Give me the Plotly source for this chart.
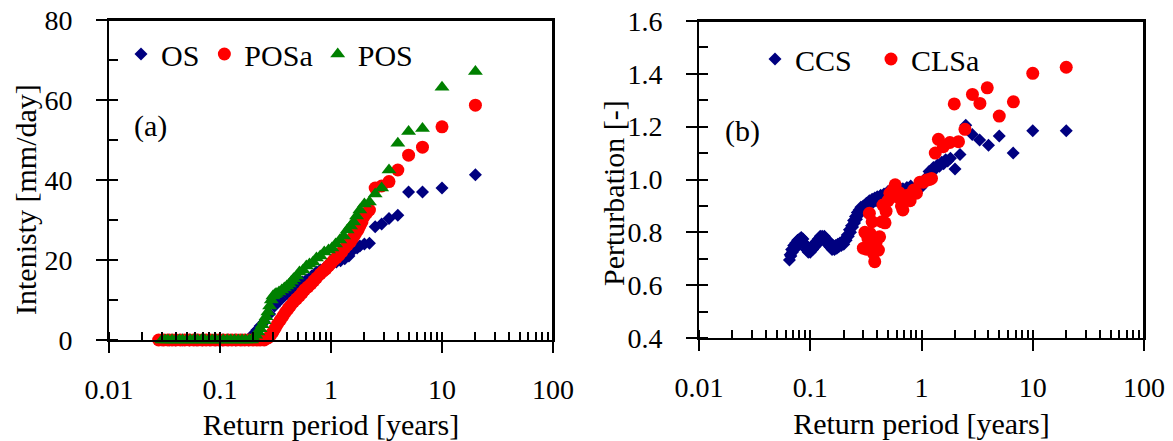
import plotly.graph_objects as go

# ---------------- Panel (a) data ----------------
os_T = [0.03, 0.035, 0.04, 0.046, 0.053, 0.061, 0.07, 0.08, 0.092, 0.105, 0.12, 0.138, 0.158, 0.18,
        0.2, 0.215, 0.23, 0.25, 0.28, 0.31, 0.35, 0.4, 0.45, 0.5, 0.55, 0.6, 0.67, 0.74, 0.8, 0.87,
        0.95, 1.03, 1.12, 1.22, 1.33, 1.45, 1.58, 1.72, 1.82, 2.0, 2.22, 2.5, 2.86, 3.33, 4.0, 5.0,
        6.67, 10.0, 20.0]
os_I = [0, 0, 0, 0, 0, 0, 0, 0, 0, 0, 0, 0, 0, 0,
        1.5, 2.5, 3.5, 4.5, 6.5, 8.5, 10, 11.5, 12.5, 13.5, 14.5, 15, 16, 17, 17.5, 18,
        18.5, 19, 19.5, 19.8, 20.3, 21, 22.5, 23, 23.5, 24, 24.2, 28.3, 29, 30.4, 31.2, 37,
        37, 38, 41.3]

posa_T = [0.028, 0.031, 0.034, 0.037, 0.04, 0.044, 0.048, 0.053, 0.058, 0.063, 0.069, 0.075, 0.082,
          0.09, 0.098, 0.107, 0.117, 0.128, 0.14, 0.153, 0.167, 0.182, 0.198, 0.215, 0.23, 0.25,
          0.27, 0.285, 0.3, 0.315, 0.33, 0.35, 0.37, 0.39, 0.41, 0.43, 0.46, 0.49, 0.52, 0.55, 0.58,
          0.62, 0.66, 0.7, 0.74, 0.8, 0.85, 0.9, 0.95, 1.0, 1.06, 1.12, 1.18, 1.25, 1.33, 1.41, 1.5,
          1.58, 1.66, 1.75, 1.82, 1.9, 2.0, 2.1, 2.22, 2.5, 2.86, 3.33, 4.0, 5.0, 6.67, 10.0, 20.0]
posa_I = [0, 0, 0, 0, 0, 0, 0, 0, 0, 0, 0, 0, 0,
          0, 0, 0, 0, 0, 0, 0, 0, 0, 0, 0, 0, 0,
          0.5, 1.2, 2, 3, 4, 5, 6, 7, 7.8, 8.5, 9.5, 10.3, 11, 11.8, 12.6,
          13.3, 14, 14.8, 15.5, 16.5, 17.2, 17.8, 18.5, 19.2, 20, 20.6, 21.2, 22, 23, 23.8, 24.6,
          25.6, 26.5, 27.5, 28.5, 29.5, 31, 31.8, 32.5, 38, 38.5, 39.6, 42.5, 46.2, 48.2, 53.3, 58.7]

pos_T = [0.03, 0.032, 0.034, 0.037, 0.04, 0.043, 0.046, 0.05, 0.054, 0.058, 0.063, 0.068, 0.073,
         0.079, 0.085, 0.092, 0.099, 0.107, 0.116, 0.125, 0.135, 0.146, 0.158, 0.17, 0.183, 0.193,
         0.2, 0.21, 0.22, 0.23, 0.24, 0.25, 0.26, 0.27, 0.28, 0.29, 0.3, 0.31, 0.32, 0.34, 0.36,
         0.38, 0.4, 0.42, 0.44, 0.46, 0.49, 0.52, 0.56, 0.6, 0.64, 0.69, 0.74, 0.8, 0.87, 0.95,
         1.02, 1.1, 1.2, 1.3, 1.4, 1.5, 1.6, 1.7, 1.82, 2.0, 2.22, 2.5, 2.86, 3.33, 4.0, 5.0, 6.67,
         10.0, 20.0]
pos_I = [0, 0, 0, 0, 0, 0, 0, 0, 0, 0, 0, 0, 0,
         0, 0, 0, 0, 0, 0, 0, 0, 0, 0, 0, 0, 0,
         0.5, 1.2, 2, 2.8, 3.8, 4.8, 5.8, 7, 8.5, 10, 11, 11.3, 11.6, 12, 12.5,
         13, 13.5, 14, 14.7, 15.3, 16, 17, 17.5, 18.5, 19, 19.5, 20.5, 21, 22, 22.5,
         23, 24, 25, 26, 27.5, 28.5, 29.5, 31, 32.5, 34, 34.5, 36.5, 38, 42.5, 49.2, 52.1, 52.9,
         63.2, 67.1]

# ---------------- Panel (b) data ----------------
ccs_T = [0.065, 0.066, 0.067, 0.068, 0.069, 0.071, 0.072, 0.074, 0.075, 0.077, 0.078, 0.08, 0.081,
         0.083, 0.084, 0.086, 0.088, 0.09, 0.092, 0.094, 0.096, 0.098, 0.1, 0.103, 0.105, 0.108,
         0.11, 0.113, 0.115, 0.118, 0.12, 0.123, 0.125, 0.128, 0.131, 0.134, 0.137, 0.14, 0.143,
         0.147, 0.15, 0.154, 0.157, 0.161, 0.165, 0.169, 0.173, 0.177, 0.18, 0.185, 0.19, 0.195,
         0.2, 0.205, 0.21, 0.215, 0.22, 0.225, 0.23, 0.235, 0.24, 0.245, 0.25, 0.255, 0.26, 0.265,
         0.27, 0.275, 0.28, 0.285, 0.29, 0.3, 0.31, 0.32, 0.33, 0.34, 0.35, 0.36, 0.37, 0.38, 0.39,
         0.4, 0.42, 0.43, 0.45, 0.46, 0.48, 0.5, 0.52, 0.54, 0.56, 0.58, 0.6, 0.63, 0.65, 0.68,
         0.71, 0.74, 0.77, 0.8, 0.84, 0.87, 0.91, 0.95, 0.99, 1.03, 1.08, 1.12, 1.17, 1.22, 1.28,
         1.33, 1.39, 1.45, 1.52, 1.58, 1.65, 1.72, 1.82, 2.0, 2.22, 2.5, 2.86, 3.33, 4.0, 5.0, 6.67,
         10.0, 20.0]
ccs_P = [0.695, 0.715, 0.71, 0.735, 0.725, 0.75, 0.735, 0.76, 0.745, 0.77, 0.755, 0.775, 0.76,
         0.78, 0.765, 0.775, 0.755, 0.755, 0.735, 0.745, 0.725, 0.74, 0.725, 0.745, 0.735, 0.755,
         0.745, 0.765, 0.755, 0.775, 0.765, 0.785, 0.77, 0.785, 0.775, 0.785, 0.77, 0.775, 0.755,
         0.765, 0.745, 0.755, 0.735, 0.75, 0.735, 0.75, 0.74, 0.755, 0.745, 0.76, 0.75, 0.765,
         0.755, 0.775, 0.77, 0.79, 0.785, 0.81, 0.8, 0.825, 0.82, 0.845, 0.835, 0.86, 0.85, 0.875,
         0.865, 0.885, 0.875, 0.895, 0.885, 0.9, 0.895, 0.91, 0.905, 0.92, 0.91, 0.925, 0.915, 0.93,
         0.92, 0.935, 0.925, 0.94, 0.93, 0.945, 0.94, 0.955, 0.945, 0.96, 0.95, 0.965, 0.955, 0.97,
         0.96, 0.965, 0.955, 0.97, 0.96, 0.975, 0.955, 0.965, 0.96, 0.975, 0.97, 0.99, 1.0, 1.01,
         1.03, 1.025, 1.045, 1.04, 1.055, 1.05, 1.065, 1.06, 1.075, 1.07, 1.08, 1.04, 1.095, 1.205,
         1.17, 1.15, 1.13, 1.165, 1.1, 1.185, 1.185]

clsa_T = [0.3, 0.31, 0.32, 0.33, 0.34, 0.345, 0.35, 0.36, 0.37, 0.38, 0.39, 0.41, 0.42, 0.44,
          0.45, 0.47, 0.48, 0.5, 0.52, 0.55, 0.58, 0.6, 0.63, 0.66, 0.68, 0.71, 0.75, 0.79, 0.85,
          0.9, 0.97, 1.04, 1.11, 1.18, 1.23, 1.33, 1.42, 1.57, 1.8, 1.97, 2.15, 2.46, 2.87, 3.35,
          3.9, 5.0, 6.7, 10.0, 20.0]
clsa_P = [0.74, 0.8, 0.736, 0.777, 0.872, 0.796, 0.75, 0.84, 0.72, 0.689, 0.76, 0.733, 0.783,
          0.84, 0.903, 0.836, 0.88, 0.92, 0.948, 0.96, 0.98, 0.935, 0.95, 0.9, 0.885, 0.93, 0.94,
          0.92, 0.96, 0.948, 0.99, 0.99, 0.998, 1.0, 1.004, 1.1, 1.152, 1.124, 1.14, 1.286, 1.143,
          1.19, 1.322, 1.288, 1.347, 1.24, 1.294, 1.402, 1.425]

# ---------------- styling ----------------
FONT = "Liberation Serif"
NAVY = "#000080"
RED = "#FF0000"
GREEN = "#008000"

fig = go.Figure()

common = dict(mode="markers", cliponaxis=False)
fig.add_trace(go.Scatter(x=os_T, y=os_I, name="OS",
                         marker=dict(symbol="diamond", size=10, color=NAVY),
                         xaxis="x", yaxis="y", legend="legend", **common))
fig.add_trace(go.Scatter(x=posa_T, y=posa_I, name="POSa",
                         marker=dict(symbol="circle", size=13, color=RED),
                         xaxis="x", yaxis="y", legend="legend", **common))
fig.add_trace(go.Scatter(x=pos_T, y=pos_I, name="POS",
                         marker=dict(symbol="triangle-up", size=13, color=GREEN),
                         xaxis="x", yaxis="y", legend="legend", **common))

fig.add_trace(go.Scatter(x=ccs_T, y=ccs_P, name="CCS",
                         marker=dict(symbol="diamond", size=10, color=NAVY),
                         xaxis="x2", yaxis="y2", legend="legend2", **common))
fig.add_trace(go.Scatter(x=clsa_T, y=clsa_P, name="CLSa",
                         marker=dict(symbol="circle", size=13, color=RED),
                         xaxis="x2", yaxis="y2", legend="legend2", **common))

# Page body margin is removed (post_script), so coordinates are screenshot pixels.
W, H = 1173, 441
AX_L1, AX_R1 = 109, 553      # left panel x extent
AX_L2, AX_R2 = 699, 1144     # right panel x extent
Y_TOP, Y_BOT = 20, 340       # left panel y extent
Y2_TOP, Y2_BOT = 21, 338     # right panel y extent

ML, MR, MT, MB = AX_L1, W - AX_R2, Y_TOP, H - Y_BOT
PW = W - ML - MR
PH = H - MT - MB


def px_x(p):
    return (p - ML) / PW


def px_y(p):
    return (MT + PH - p) / PH


def xa(domain, anchor):
    return dict(
        type="log", range=[-2, 2], domain=domain, anchor=anchor, automargin=False,
        showline=True, linecolor="black", linewidth=2, mirror=True,
        ticks="outside", ticklen=11, tickwidth=2, tickcolor="black",
        tickvals=[0.01, 0.1, 1, 10, 100], ticktext=["0.01", "0.1", "1", "10", "100"],
        minor=dict(ticks="inside", ticklen=8, tickwidth=2, tickcolor="black", dtick="D1", showgrid=False),
        showgrid=False, zeroline=False, ticklabeloverflow="allow",
        tickfont=dict(family=FONT, size=28, color="black"),
        ticklabelstandoff=12,
        title=dict(text="Return period [years]", font=dict(family=FONT, size=30, color="black"), standoff=11),
    )


def ya(rng, domain, anchor, dtick, minor_dtick, fmt):
    return dict(
        range=rng, domain=domain, anchor=anchor, automargin=False,
        showline=True, linecolor="black", linewidth=2, mirror=True,
        ticks="outside", ticklen=11, tickwidth=2, tickcolor="black", dtick=dtick, tick0=rng[0],
        tickformat=fmt,
        minor=dict(ticks="inside", ticklen=9, tickwidth=2, tickcolor="black", dtick=minor_dtick, showgrid=False),
        showgrid=False, zeroline=False, ticklabeloverflow="allow",
        tickfont=dict(family=FONT, size=28, color="black"),
        ticklabelstandoff=18,
    )


frame = []
for xr, yr in (("x domain", "y domain"), ("x2 domain", "y2 domain")):
    frame.append(dict(type="line", xref=xr, yref=yr, x0=0, x1=1, y0=1, y1=1,
                      line=dict(color="black", width=2), layer="above"))
    frame.append(dict(type="line", xref=xr, yref=yr, x0=1, x1=1, y0=0, y1=1,
                      line=dict(color="black", width=2), layer="above"))

tfont = dict(family=FONT, size=30, color="black")

fig.update_layout(
    width=W, height=H,
    margin=dict(l=ML, r=MR, t=MT, b=MB, autoexpand=False),
    paper_bgcolor="white", plot_bgcolor="white",
    font=dict(family=FONT, color="black"),
    xaxis=xa([0, (AX_R1 - ML) / PW], "y"),
    xaxis2=xa([(AX_L2 - ML) / PW, 1], "y2"),
    yaxis=ya([0, 80], [0, 1], "x", 20, 10, "d"),
    yaxis2=ya([0.4, 1.6], [(MT + PH - Y2_BOT) / PH, (MT + PH - Y2_TOP) / PH], "x2", 0.2, 0.1, ".1f"),
    legend=dict(
        orientation="h", x=px_x(121), y=px_y(54), xanchor="left", yanchor="middle",
        bgcolor="rgba(0,0,0,0)", font=tfont, itemsizing="trace",
    ),
    legend2=dict(
        orientation="h", x=px_x(755), y=px_y(59), xanchor="left", yanchor="middle",
        bgcolor="rgba(0,0,0,0)", font=tfont, itemsizing="trace", entrywidth=71,
    ),
    shapes=frame,
    annotations=[
        dict(text="Intenisty [mm/day]", xref="paper", yref="paper", x=px_x(25), y=px_y(200),
             textangle=-90, showarrow=False, font=tfont, xanchor="center", yanchor="middle"),
        dict(text="Perturbation [-]", xref="paper", yref="paper", x=px_x(613), y=px_y(193),
             textangle=-90, showarrow=False, font=tfont, xanchor="center", yanchor="middle"),
        dict(text="(a)", xref="x domain", yref="y domain", x=(150 - 109) / 444, y=(340 - 126) / 320,
             showarrow=False, font=tfont, xanchor="center", yanchor="middle"),
        dict(text="(b)", xref="x2 domain", yref="y2 domain", x=(742 - 699) / 445, y=(338 - 131) / 317,
             showarrow=False, font=tfont, xanchor="center", yanchor="middle"),
    ],
    showlegend=True,
)

fig.write_html("out.html", config={"displayModeBar": False},
               post_script="document.body.style.margin='0px';")
